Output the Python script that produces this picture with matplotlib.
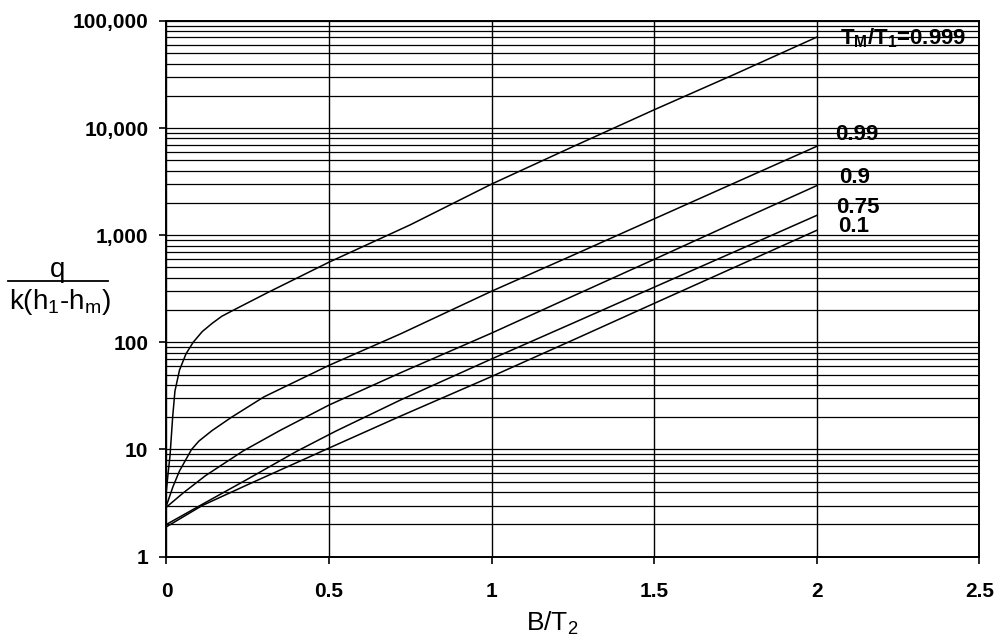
import matplotlib
matplotlib.use('Agg')
import matplotlib.pyplot as plt
from matplotlib.ticker import LogLocator, FixedLocator, FuncFormatter, NullFormatter
from matplotlib.lines import Line2D

plt.rcParams['font.family'] = ['Liberation Sans', 'DejaVu Sans']
plt.rcParams['mathtext.fontset'] = 'custom'
plt.rcParams['mathtext.rm'] = 'Liberation Sans'
plt.rcParams['mathtext.it'] = 'Liberation Sans'
plt.rcParams['mathtext.bf'] = 'Liberation Sans:bold'

# curves, B/T2 -> q / k(h1-hm)
x_999 = [0, 0.005, 0.011, 0.019, 0.026, 0.04, 0.06, 0.082, 0.11, 0.14, 0.17, 0.205, 0.31, 0.5, 0.75, 1.0, 1.25, 1.5, 1.75, 2.0]
y_999 = [4.2, 6, 8.8, 20, 35, 55, 78, 100, 126, 150, 175, 199, 290, 560, 1250, 3000, 6700, 14800, 32000, 70500]

x_99 = [0, 0.02, 0.04, 0.077, 0.1, 0.14, 0.2, 0.3, 0.5, 0.72, 1.0, 1.25, 1.5, 1.75, 2.0]
y_99 = [3.0, 4.5, 6.3, 10, 12, 15, 20, 31, 61, 120, 300, 650, 1420, 3100, 6750]

x_9 = [0, 0.05, 0.12, 0.236, 0.35, 0.5, 0.72, 1.0, 1.25, 1.5, 1.75, 2.0]
y_9 = [2.9, 3.9, 5.7, 9.7, 15.1, 26, 52, 122, 270, 595, 1320, 2900]

x_75 = [0, 0.12, 0.25, 0.4, 0.52, 0.72, 1.0, 1.25, 1.5, 1.75, 2.0]
y_75 = [2.0, 3.2, 5.3, 9.6, 14.8, 29, 70, 151, 327, 707, 1530]

x_1 = [0, 0.11, 0.25, 0.49, 0.72, 1.0, 1.25, 1.5, 1.75, 2.0]
y_1 = [1.9, 3.0, 4.7, 10, 20.5, 48, 105, 231, 506, 1110]

curve_labels = [r'T$_\mathbf{M}$/T$_\mathbf{1}$=0.999', '0.99', '0.9', '0.75', '0.1']
label_x = [2.07, 2.057, 2.07, 2.06, 2.066]
label_y = [68500, 8670, 3470, 1830, 1200]

x_ticks = [0, 0.5, 1, 1.5, 2, 2.5]
y_ticks = [1, 10, 100, 1000, 10000, 100000]

fig = plt.figure(figsize=(9.98, 6.38), dpi=100)
ax = fig.add_axes([0.1668, 0.1275, 0.8145, 0.8398])

for xs, ys in [(x_999, y_999), (x_99, y_99), (x_9, y_9), (x_75, y_75), (x_1, y_1)]:
    ax.plot(xs, ys, color='black', lw=1.1, zorder=3)

for txt, lx, ly in zip(curve_labels, label_x, label_y):
    ax.text(lx, ly, txt, fontsize=16, fontweight='bold', ha='left', va='center', zorder=4)

ax.set_yscale('log')
ax.set_xlim(0, 2.5)
ax.set_ylim(1, 100000)
ax.xaxis.set_major_locator(FixedLocator(x_ticks))
ax.set_xticklabels([('%g' % v) for v in x_ticks])
ax.yaxis.set_major_locator(FixedLocator(y_ticks))
ax.yaxis.set_major_formatter(FuncFormatter(lambda v, p: '{:,.0f}'.format(v)))
ax.yaxis.set_minor_locator(LogLocator(base=10, subs=range(2, 10)))
ax.yaxis.set_minor_formatter(NullFormatter())

ax.grid(True, axis='x', which='major', color='black', lw=1.0)
ax.grid(True, axis='y', which='both', color='black', lw=0.9)
ax.tick_params(which='major', direction='out', length=5, width=1.2, color='black',
               labelsize=15)
ax.tick_params(axis='y', which='major', pad=8)
ax.tick_params(axis='x', which='major', pad=13)
ax.tick_params(which='minor', length=0)
for lab in ax.get_xticklabels() + ax.get_yticklabels():
    lab.set_fontweight('bold')
for s in ax.spines.values():
    s.set_linewidth(1.4)

ax.set_xlabel(r'B/T$_2$', fontsize=19, labelpad=0)
ax.xaxis.set_label_coords(0.475, -0.1)

# y label as a fraction
fig.text(58 / 998, 1 - 270 / 638, 'q', fontsize=20, ha='center', va='center')
fig.add_artist(Line2D([8 / 998, 108 / 998], [1 - 281 / 638, 1 - 281 / 638], color='black', lw=1.3))
fig.text(60 / 998, 1 - 302 / 638, r'k(h$_1$-h$_\mathrm{m}$)', fontsize=20, ha='center', va='center')

fig.savefig('out.png', dpi=100)
